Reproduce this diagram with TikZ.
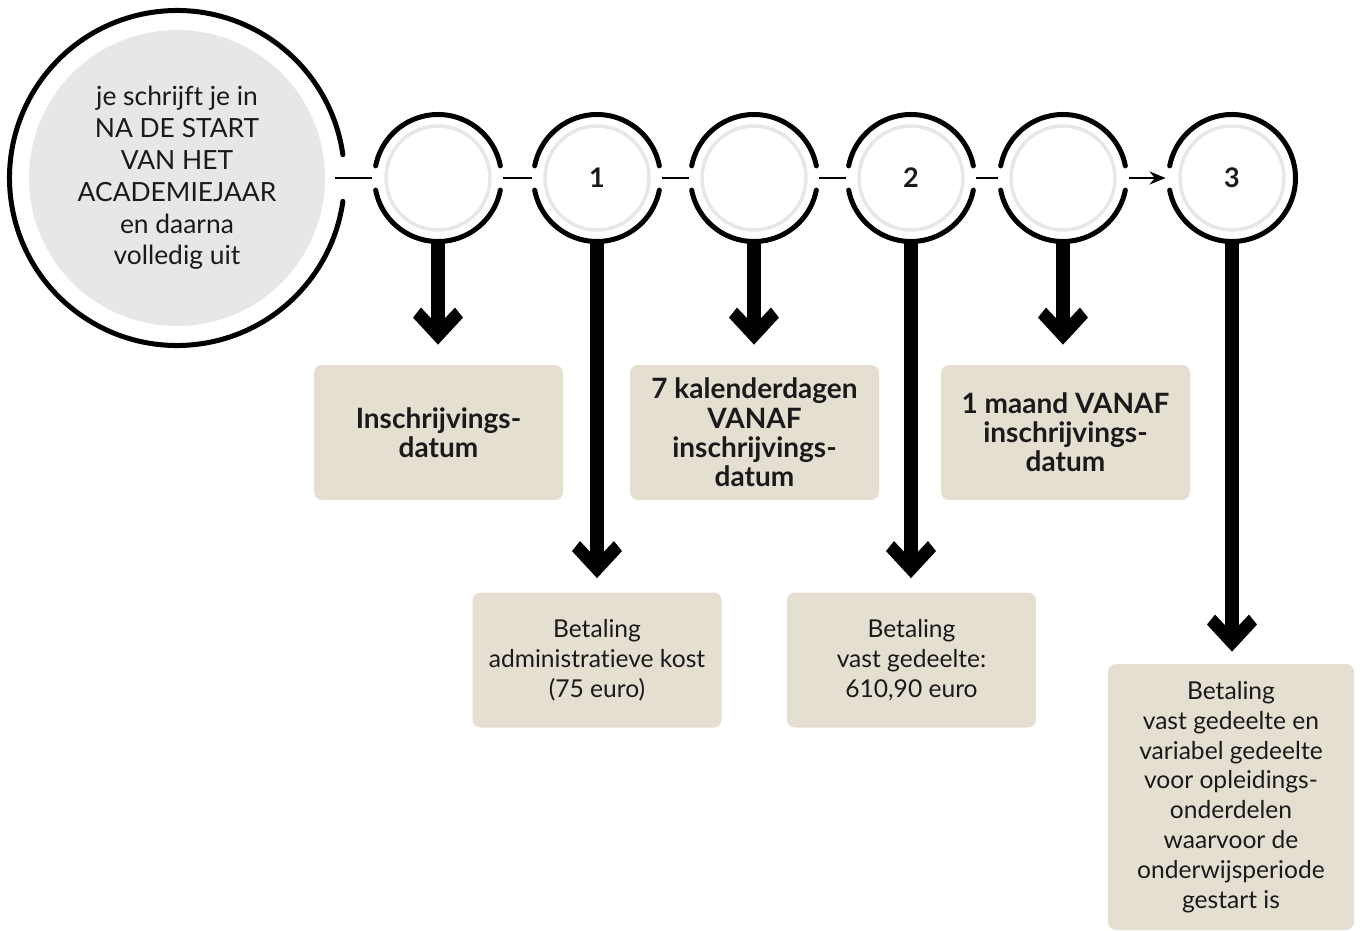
\documentclass[tikz,border=0pt]{standalone}
\usepackage{fontspec}
\setmainfont{Lato}[Ligatures=CommonOff]
\usetikzlibrary{arrows.meta}
\definecolor{beige}{HTML}{E5DFD2}
\definecolor{lgrey}{HTML}{E6E7E8}
\definecolor{ink}{HTML}{1A1A1A}
\pgfdeclarearrow{
  name = Chevron,
  setup code = {
    \pgfarrowssettipend{0pt}
    \pgfarrowssetlineend{-8pt}
    \pgfarrowssetbackend{-18.5pt}
    \pgfarrowshullpoint{0pt}{0pt}
    \pgfarrowshullpoint{-18.5pt}{12.5pt}
    \pgfarrowshullpoint{-18.5pt}{-12.5pt}
  },
  drawing code = {
    \pgfpathmoveto{\pgfqpoint{0pt}{0pt}}
    \pgfpathlineto{\pgfqpoint{-13.5pt}{12.5pt}}
    \pgfpathlineto{\pgfqpoint{-18.5pt}{8.5pt}}
    \pgfpathlineto{\pgfqpoint{-9.5pt}{0pt}}
    \pgfpathlineto{\pgfqpoint{-18.5pt}{-8.5pt}}
    \pgfpathlineto{\pgfqpoint{-13.5pt}{-12.5pt}}
    \pgfpathclose
    \pgfusepathqfill
  }
}
\begin{document}
\begin{tikzpicture}[x=0.5pt,y=-0.5pt,
  ringnode/.style={circle, minimum size=66pt, inner sep=0pt, text=ink,
    font=\fontsize{13.5}{15}\selectfont\bfseries},
  bignode/.style={circle, minimum size=170pt, inner sep=0pt, align=center, text=ink,
    font=\fontsize{13.2}{15.9}\selectfont},
  box/.style={fill=beige, rounded corners=4pt, minimum width=124.5pt,
    minimum height=67.5pt, align=center, inner sep=0pt, text=ink,
    font=\fontsize{12.3}{14.9}\selectfont},
  boldbox/.style={box, font=\fontsize{14}{14.6}\selectfont\bfseries},
  ring/.style={line width=2.5pt, line cap=round},
  innerring/.style={lgrey, line width=1.75pt},
  link/.style={line width=1.25pt},
  stemline/.style={line width=7.25pt, -{Chevron}},
]
\useasboundingbox (0,0) rectangle (1361,931);

% big start circle
\fill[lgrey] (177,178) circle[radius=74pt];
\node[bignode] (big) at (177,178) {je schrijft je in\\NA DE START\\VAN HET\\ACADEMIEJAAR\\en daarna\\volledig uit};
\draw[ring] (big.center) ++(8:83.75pt) arc[start angle=8, end angle=352, radius=83.75pt];

% small circles
\foreach \n/\x/\t in {c1/438/, c2/597/1, c3/754/, c4/911/2, c5/1063/, c6/1232/3}{
  \node[ringnode] (\n) at (\x,178) {\t};
  \draw[innerring] (\n.center) circle[radius=26pt];
}
\foreach \n in {c1,c2,c3,c4,c5}{
  \draw[ring] (\n.center) ++(11:31.75pt) arc[start angle=11, end angle=169, radius=31.75pt];
  \draw[ring] (\n.center) ++(191:31.75pt) arc[start angle=191, end angle=349, radius=31.75pt];
}
\draw[ring] (c6.center) ++(-169:31.75pt) arc[start angle=-169, end angle=169, radius=31.75pt];

% horizontal connectors
\draw[link, shorten <=-6pt] (big.east) -- (c1.west);
\draw[link, shorten <=-0.5pt, shorten >=-0.5pt] (c1.east) -- (c2.west);
\draw[link, shorten <=-0.5pt, shorten >=-0.5pt] (c2.east) -- (c3.west);
\draw[link, shorten <=-0.5pt, shorten >=-0.5pt] (c3.east) -- (c4.west);
\draw[link, shorten <=-0.5pt, shorten >=-0.5pt] (c4.east) -- (c5.west);
\draw[link, -{Stealth[length=8pt,width=6.5pt]}] (c5.east) -- (c6.west);

% boxes
\node[boldbox] (b1) at (438.5,432.5) {Inschrijvings-\\datum};
\node[boldbox] (b2) at (754.5,432.5) {7 kalenderdagen\\VANAF\\inschrijvings-\\datum};
\node[boldbox] (b3) at (1065.5,432.5) {1 maand VANAF\\inschrijvings-\\datum};
\node[box] (b4) at (597,660) {Betaling\\administratieve kost\\(75 euro)};
\node[box] (b5) at (911.5,660) {Betaling\\vast gedeelte:\\610,90 euro};
\node[box, minimum width=123pt, minimum height=133pt] (b6) at (1231,797) {Betaling\\vast gedeelte en\\variabel gedeelte\\voor opleidings-\\onderdelen\\waarvoor de\\onderwijsperiode\\gestart is};

% vertical arrows
\draw[stemline, shorten <=-1pt, shorten >=10pt] (c1.south) -- (c1.south |- b1.north);
\draw[stemline, shorten <=-1pt, shorten >=7pt] (c2.south) -- (c2.south |- b4.north);
\draw[stemline, shorten <=-1pt, shorten >=10pt] (c3.south) -- (c3.south |- b2.north);
\draw[stemline, shorten <=-1pt, shorten >=7pt] (c4.south) -- (c4.south |- b5.north);
\draw[stemline, shorten <=-1pt, shorten >=10pt] (c5.south) -- (c5.south |- b3.north);
\draw[stemline, shorten <=-1pt, shorten >=6pt] (c6.south) -- (c6.south |- b6.north);
\end{tikzpicture}
\end{document}
